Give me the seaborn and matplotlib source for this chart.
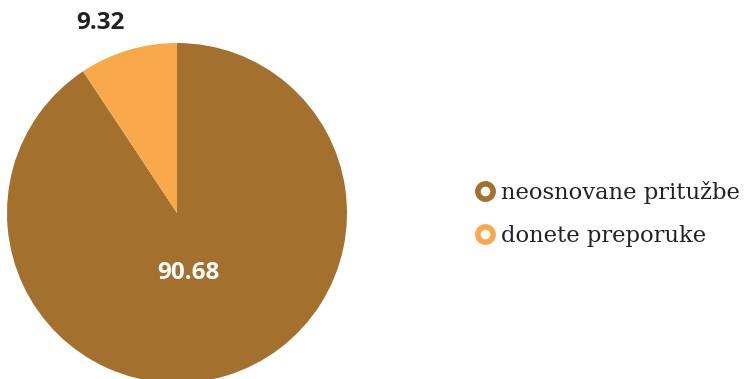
import matplotlib
matplotlib.use("Agg")
import matplotlib.pyplot as plt
from matplotlib.lines import Line2D
import seaborn as sns

categories = ["neosnovane pritužbe", "donete preporuke"]
values = [90.68, 9.32]
value_labels = ["90.68", "9.32"]
colors = ["#A4702E", "#F9A94B"]

sns.set_theme(style="white")
plt.rcParams['font.family'] = ['Open Sans', 'DejaVu Sans']

fig = plt.figure(figsize=(7.49, 3.79), dpi=100)
ax = fig.add_axes([0, 0, 1, 1])

cx, cy, r = 177, 166, 170
wedges, _ = ax.pie(values, colors=colors, startangle=90, counterclock=False,
                   center=(cx, cy), radius=r, frame=True,
                   wedgeprops=dict(linewidth=0))
ax.set_xlim(0, 749)
ax.set_ylim(0, 379)
ax.set_aspect('equal')
ax.axis('off')

ax.text(188, 379 - 273, value_labels[0], color='white', fontsize=17.5,
        fontweight='bold', ha='center', va='center')
ax.text(100, 379 - 23, value_labels[1], color='#222222', fontsize=17.5,
        fontweight='bold', ha='center', va='center')

handles = [Line2D([0], [0], marker='o', linestyle='none', markersize=11,
                  markerfacecolor='white', markeredgecolor=c, markeredgewidth=4)
           for c in colors]
leg = ax.legend(handles, categories, loc='center left',
                bbox_to_anchor=(476 / 749, 1 - 214 / 379), frameon=False,
                prop={'family': 'DejaVu Serif', 'size': 16.3},
                borderaxespad=0, borderpad=0,
                handletextpad=0.3, labelspacing=0.95, handlelength=0.8,
                labelcolor='#222222')

fig.savefig("out.png", dpi=100)
